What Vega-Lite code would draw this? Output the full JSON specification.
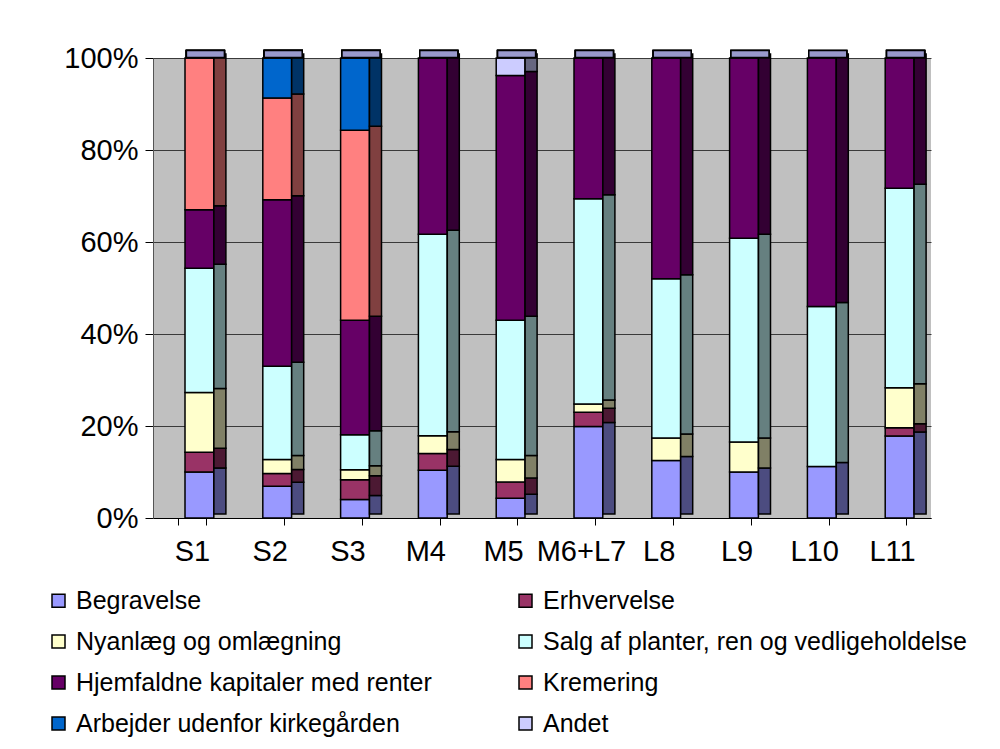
{
  "$schema": "https://vega.github.io/schema/vega-lite/v6.json",
  "width": 778,
  "height": 460,
  "autosize": {"type": "none"},
  "padding": {"left": 153, "top": 58, "right": 69, "bottom": 231},
  "background": "white",
  "config": {
    "view": {"fill": "#C0C0C0", "stroke": null},
    "font": "Liberation Sans"
  },
  "data": {
    "values": [
      {"s": "S1", "c": "Begravelse", "r": 1, "v": 10.0},
      {"s": "S1", "c": "Erhvervelse", "r": 2, "v": 4.3},
      {"s": "S1", "c": "Nyanlæg og omlægning", "r": 3, "v": 13.0},
      {"s": "S1", "c": "Salg af planter, ren og vedligeholdelse", "r": 4, "v": 27.0},
      {"s": "S1", "c": "Hjemfaldne kapitaler med renter", "r": 5, "v": 12.7},
      {"s": "S1", "c": "Kremering", "r": 6, "v": 33.0},
      {"s": "S2", "c": "Begravelse", "r": 1, "v": 6.9},
      {"s": "S2", "c": "Erhvervelse", "r": 2, "v": 2.8},
      {"s": "S2", "c": "Nyanlæg og omlægning", "r": 3, "v": 3.0},
      {"s": "S2", "c": "Salg af planter, ren og vedligeholdelse", "r": 4, "v": 20.3},
      {"s": "S2", "c": "Hjemfaldne kapitaler med renter", "r": 5, "v": 36.2},
      {"s": "S2", "c": "Kremering", "r": 6, "v": 22.1},
      {"s": "S2", "c": "Arbejder udenfor kirkegården", "r": 7, "v": 8.7},
      {"s": "S3", "c": "Begravelse", "r": 1, "v": 4.0},
      {"s": "S3", "c": "Erhvervelse", "r": 2, "v": 4.3},
      {"s": "S3", "c": "Nyanlæg og omlægning", "r": 3, "v": 2.2},
      {"s": "S3", "c": "Salg af planter, ren og vedligeholdelse", "r": 4, "v": 7.6},
      {"s": "S3", "c": "Hjemfaldne kapitaler med renter", "r": 5, "v": 24.9},
      {"s": "S3", "c": "Kremering", "r": 6, "v": 41.3},
      {"s": "S3", "c": "Arbejder udenfor kirkegården", "r": 7, "v": 15.7},
      {"s": "M4", "c": "Begravelse", "r": 1, "v": 10.4},
      {"s": "M4", "c": "Erhvervelse", "r": 2, "v": 3.6},
      {"s": "M4", "c": "Nyanlæg og omlægning", "r": 3, "v": 3.9},
      {"s": "M4", "c": "Salg af planter, ren og vedligeholdelse", "r": 4, "v": 43.8},
      {"s": "M4", "c": "Hjemfaldne kapitaler med renter", "r": 5, "v": 38.3},
      {"s": "M5", "c": "Begravelse", "r": 1, "v": 4.3},
      {"s": "M5", "c": "Erhvervelse", "r": 2, "v": 3.5},
      {"s": "M5", "c": "Nyanlæg og omlægning", "r": 3, "v": 4.9},
      {"s": "M5", "c": "Salg af planter, ren og vedligeholdelse", "r": 4, "v": 30.3},
      {"s": "M5", "c": "Hjemfaldne kapitaler med renter", "r": 5, "v": 53.2},
      {"s": "M5", "c": "Andet", "r": 8, "v": 3.8},
      {"s": "M6+L7", "c": "Begravelse", "r": 1, "v": 19.9},
      {"s": "M6+L7", "c": "Erhvervelse", "r": 2, "v": 3.1},
      {"s": "M6+L7", "c": "Nyanlæg og omlægning", "r": 3, "v": 1.8},
      {"s": "M6+L7", "c": "Salg af planter, ren og vedligeholdelse", "r": 4, "v": 44.6},
      {"s": "M6+L7", "c": "Hjemfaldne kapitaler med renter", "r": 5, "v": 30.6},
      {"s": "L8", "c": "Begravelse", "r": 1, "v": 12.5},
      {"s": "L8", "c": "Nyanlæg og omlægning", "r": 3, "v": 4.9},
      {"s": "L8", "c": "Salg af planter, ren og vedligeholdelse", "r": 4, "v": 34.6},
      {"s": "L8", "c": "Hjemfaldne kapitaler med renter", "r": 5, "v": 48.0},
      {"s": "L9", "c": "Begravelse", "r": 1, "v": 10.0},
      {"s": "L9", "c": "Nyanlæg og omlægning", "r": 3, "v": 6.5},
      {"s": "L9", "c": "Salg af planter, ren og vedligeholdelse", "r": 4, "v": 44.3},
      {"s": "L9", "c": "Hjemfaldne kapitaler med renter", "r": 5, "v": 39.2},
      {"s": "L10", "c": "Begravelse", "r": 1, "v": 11.2},
      {"s": "L10", "c": "Salg af planter, ren og vedligeholdelse", "r": 4, "v": 34.8},
      {"s": "L10", "c": "Hjemfaldne kapitaler med renter", "r": 5, "v": 54.0},
      {"s": "L11", "c": "Begravelse", "r": 1, "v": 17.8},
      {"s": "L11", "c": "Erhvervelse", "r": 2, "v": 1.8},
      {"s": "L11", "c": "Nyanlæg og omlægning", "r": 3, "v": 8.7},
      {"s": "L11", "c": "Salg af planter, ren og vedligeholdelse", "r": 4, "v": 43.4},
      {"s": "L11", "c": "Hjemfaldne kapitaler med renter", "r": 5, "v": 28.3}
    ]
  },
  "encoding": {
    "x": {
      "field": "s",
      "type": "nominal",
      "sort": ["S1", "S2", "S3", "M4", "M5", "M6+L7", "L8", "L9", "L10", "L11"],
      "scale": {"paddingInner": 0.63, "paddingOuter": 0.315},
      "axis": {
        "title": null,
        "labelAngle": 0,
        "labelFontSize": 29,
        "labelColor": "black",
        "tickBand": "extent",
        "tickSize": 7,
        "tickColor": "black",
        "domainColor": "black",
        "labelPadding": 12,
        "grid": false
      }
    },
    "y": {
      "field": "v",
      "type": "quantitative",
      "stack": "normalize",
      "axis": {
        "title": null,
        "format": ".0%",
        "values": [0, 0.2, 0.4, 0.6, 0.8, 1],
        "labelFontSize": 29,
        "labelColor": "black",
        "tickColor": "black",
        "tickSize": 8,
        "labelPadding": 7,
        "domainColor": "#555555",
        "grid": true,
        "gridColor": "#3a3a3a",
        "gridWidth": 1
      }
    },
    "order": {"field": "r", "type": "quantitative", "sort": "ascending"}
  },
  "layer": [
    {
      "mark": {"type": "bar", "xOffset": 7.5, "stroke": "black", "strokeWidth": 1.5},
      "encoding": {
        "color": {
          "field": "c",
          "type": "nominal",
          "scale": {
            "domain": ["Begravelse", "Erhvervelse", "Nyanlæg og omlægning", "Salg af planter, ren og vedligeholdelse", "Hjemfaldne kapitaler med renter", "Kremering", "Arbejder udenfor kirkegården", "Andet"],
            "range": ["#9999FF", "#993366", "#FFFFCC", "#CCFFFF", "#660066", "#FF8080", "#0066CC", "#CCCCFF"]
          },
          "legend": {
            "title": null,
            "orient": "none",
            "legendX": -107,
            "legendY": 530,
            "columns": 2,
            "direction": "horizontal",
            "columnPadding": 81,
            "rowPadding": 15,
            "symbolType": "square",
            "symbolSize": 169,
            "symbolStrokeColor": "black",
            "symbolStrokeWidth": 1.5,
            "labelFontSize": 25,
            "labelColor": "black",
            "labelLimit": 600,
            "labelOffset": 5
          }
        }
      }
    },
    {
      "mark": {"type": "bar", "xOffset": 28, "yOffset": -4, "width": 12, "stroke": "black", "strokeWidth": 1.5},
      "encoding": {
        "fill": {
          "field": "c",
          "type": "nominal",
          "scale": {
            "domain": ["Begravelse", "Erhvervelse", "Nyanlæg og omlægning", "Salg af planter, ren og vedligeholdelse", "Hjemfaldne kapitaler med renter", "Kremering", "Arbejder udenfor kirkegården", "Andet"],
            "range": ["#4C4C80", "#4C1933", "#808066", "#668080", "#330033", "#804040", "#003366", "#666680"]
          },
          "legend": null
        }
      }
    },
    {
      "mark": {"type": "tick", "orient": "horizontal", "thickness": 7, "size": 38, "xOffset": 13.5, "yOffset": -4, "color": "#9999CC", "stroke": "black", "strokeWidth": 1.5, "opacity": 1},
      "encoding": {
        "y": {"datum": 1},
        "order": null
      }
    }
  ]
}
